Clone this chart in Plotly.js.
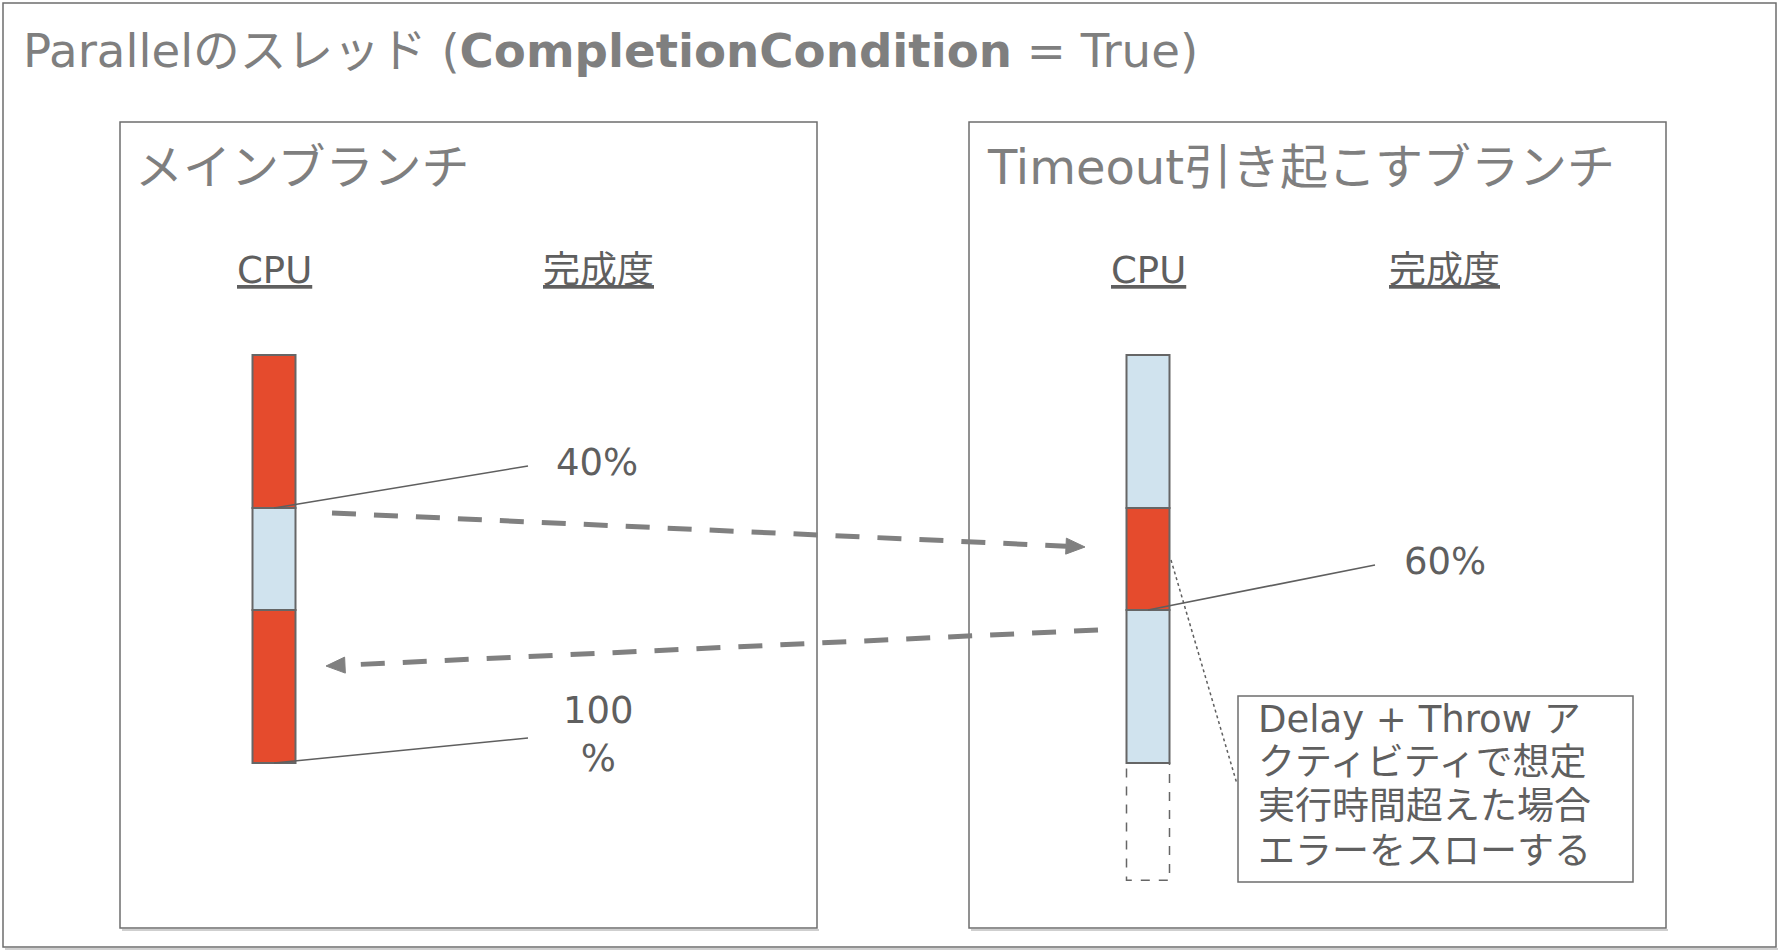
<!DOCTYPE html>
<html>
<head>
<meta charset="utf-8">
<script src="https://cdn.plot.ly/plotly-3.0.1.min.js"></script>
<style>html,body{margin:0;padding:0;background:#fff;}#chart{width:1781px;height:951px;}</style>
</head>
<body>
<div id="chart"></div>
<script>
// ---------------- data ----------------
const pageTitle = "Parallelのスレッド (<b>CompletionCondition</b> = True)";
const branchTitles = ["メインブランチ", "Timeout引き起こすブランチ"];
const columnLabels = ["CPU", "完成度"];

// CPU timeline segments (time units), top to bottom
const mainStates = ["busy", "idle", "busy"];
const mainDurations = [3, 2, 3];
const timeoutStates = ["idle", "busy", "idle"];
const timeoutDurations = [3, 2, 3];
const timeoutPending = 2.3;           // dashed, not executed part

// completion marks
const mainProgressLabels = ["40%", "100<br>%"];
const mainProgressTimes = [3, 8];
const timeoutProgressLabels = ["60%"];
const timeoutProgressTimes = [5];

const noteLines = ["Delay + Throw ア", "クティビティで想定", "実行時間超えた場合", "エラーをスローする"];

// ---------------- layout constants ----------------
const W = 1781, H = 951;
const FONT = "DejaVu Sans, 'Noto Sans CJK JP', sans-serif";
const C_TITLE = "#7f7f7f", C_TEXT = "#5f5f5f", C_LINE = "#666666", C_ARROW = "#808080";
const C_BUSY = "#e54b2d", C_IDLE = "#d0e3ee";
const T0 = 355, UNIT = 51;            // px of time 0 and px per time unit
const tPx = t => T0 + t * UNIT;
const BAR_W = 43;
const mainX = 274, toX = 1148;
const colorOf = s => s === "busy" ? C_BUSY : C_IDLE;
const starts = arr => arr.map((_, i) => arr.slice(0, i).reduce((a, b) => a + b, 0));
const sum = arr => arr.reduce((a, b) => a + b, 0);

const barTrace = (xc, states, durs) => ({
  type: "bar", xaxis: "x", yaxis: "y2",
  x: durs.map(() => xc), y: durs, base: starts(durs),
  width: durs.map(() => BAR_W),
  marker: { color: states.map(colorOf), line: { color: C_LINE, width: 2 } },
  hoverinfo: "skip", showlegend: false
});

const data = [
  barTrace(mainX, mainStates, mainDurations),
  barTrace(toX, timeoutStates, timeoutDurations)
];

const shapes = [];
const rect = (x0, y0, x1, y1, color, width, extra) => Object.assign({
  type: "rect", xref: "x", yref: "y", x0, y0, x1, y1,
  line: { color, width }, fillcolor: "rgba(0,0,0,0)", layer: "below"
}, extra || {});
const line = (x0, y0, x1, y1, color, width, dash) => ({
  type: "line", xref: "x", yref: "y", x0, y0, x1, y1,
  line: { color, width, dash: dash || "solid" }
});

// frames with faint shadow
[[3, 3, 1776, 947], [120, 122, 817, 928], [969, 122, 1666, 928]].forEach(b => {
  shapes.push(line(b[0] + 2, b[3] + 2, b[2] + 2, b[3] + 2, "#cfcfcf", 2));
  shapes.push(rect(b[0], b[1], b[2], b[3], "#6e6e6e", 1.5));
});

// dashed pending part of timeout bar
const toTotal = sum(timeoutDurations);
shapes.push({
  type: "rect", xref: "x", yref: "y2",
  x0: toX - BAR_W / 2, x1: toX + BAR_W / 2, y0: toTotal, y1: toTotal + timeoutPending,
  line: { color: C_LINE, width: 1.5, dash: "dash" }, fillcolor: "rgba(0,0,0,0)"
});

// leader lines for completion labels
const mainLabelPos = [[597, 462], [598, 734]];
const mainLeaderEnd = [[528, 466], [528, 738]];
mainProgressTimes.forEach((t, i) => {
  shapes.push(line(mainX, tPx(t), mainLeaderEnd[i][0], mainLeaderEnd[i][1], C_TEXT, 1.6));
});
const toLabelPos = [[1445, 561]];
const toLeaderEnd = [[1375, 565]];
timeoutProgressTimes.forEach((t, i) => {
  shapes.push(line(toX, tPx(t), toLeaderEnd[i][0], toLeaderEnd[i][1], C_TEXT, 1.6));
});

// dotted connector to the note box
shapes.push(line(toX + 23, 560, 1237, 784, C_TEXT, 1.5, "dot"));
// note box
shapes.push(rect(1238, 696, 1633, 882, "#6e6e6e", 1.5, { layer: "above" }));

// dashed arrows
function arrow(x0, y0, x1, y1) {
  const dx = x1 - x0, dy = y1 - y0, L = Math.hypot(dx, dy);
  const ux = dx / L, uy = dy / L, hl = 19, hw = 8;
  const bx = x1 - ux * hl, by = y1 - uy * hl;
  shapes.push(line(x0, y0, bx, by, C_ARROW, 5, "24px,18px"));
  const p1 = [bx - uy * hw, by + ux * hw], p2 = [bx + uy * hw, by - ux * hw];
  shapes.push({
    type: "path", xref: "x", yref: "y",
    path: `M${x1},${y1} L${p1[0]},${p1[1]} L${p2[0]},${p2[1]} Z`,
    fillcolor: C_ARROW, line: { color: C_ARROW, width: 1 }
  });
}
arrow(332, 513, 1085, 547);
arrow(1098, 630, 326, 666);

// ---------------- annotations ----------------
const ann = (text, x, y, size, color, xanchor) => ({
  text, x, y, xref: "x", yref: "y", showarrow: false,
  xanchor: xanchor || "center", yanchor: "middle",
  font: { family: FONT, size, color }
});
const annotations = [
  ann(pageTitle, 21, 51, 46.7, C_TITLE, "left"),
  ann(branchTitles[0], 133, 167, 48, C_TITLE, "left"),
  ann(branchTitles[1], 985, 167, 48, C_TITLE, "left"),
  ann("<u>" + columnLabels[0] + "</u>", mainX, 270, 37, C_TEXT),
  ann("<u>" + columnLabels[1] + "</u>", 598, 270, 37, C_TEXT),
  ann("<u>" + columnLabels[0] + "</u>", toX, 270, 37, C_TEXT),
  ann("<u>" + columnLabels[1] + "</u>", 1444, 270, 37, C_TEXT)
];
mainProgressLabels.forEach((l, i) => annotations.push(ann(l, mainLabelPos[i][0], mainLabelPos[i][1], 37, C_TEXT)));
timeoutProgressLabels.forEach((l, i) => annotations.push(ann(l, toLabelPos[i][0], toLabelPos[i][1], 37, C_TEXT)));
const noteY = [719, 762, 806, 851];
noteLines.forEach((l, i) => annotations.push(ann(l, 1256, noteY[i], 37, C_TEXT, "left")));

const layout = {
  width: W, height: H, autosize: false,
  margin: { l: 0, r: 0, t: 0, b: 0, pad: 0 },
  paper_bgcolor: "#ffffff", plot_bgcolor: "#ffffff",
  barmode: "overlay",
  xaxis: { range: [0, W], visible: false, fixedrange: true },
  yaxis: { range: [H, 0], visible: false, fixedrange: true },
  yaxis2: { overlaying: "y", range: [(H - T0) / UNIT, -T0 / UNIT], visible: false, fixedrange: true },
  shapes, annotations, showlegend: false
};

Plotly.newPlot("chart", data, layout, { displayModeBar: false, staticPlot: true });
</script>
</body>
</html>
